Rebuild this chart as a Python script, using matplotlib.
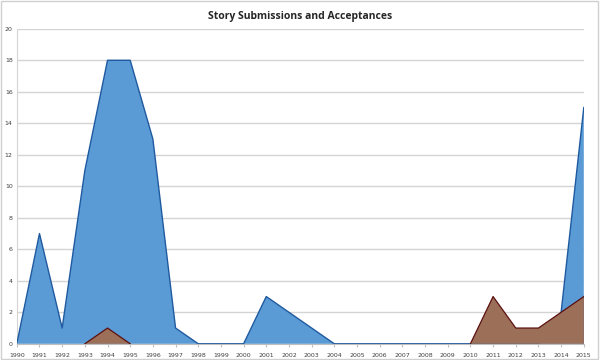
import matplotlib
matplotlib.use("Agg")
import matplotlib.pyplot as plt
from matplotlib.patches import Rectangle

years = list(range(1990, 2016))
submissions = [0, 7, 1, 11, 18, 18, 13, 1, 0, 0, 0, 3, 2, 1, 0, 0, 0, 0, 0, 0, 0, 0, 0, 0, 2, 15]
acceptances = [None, None, None, 0, 1, 0, None, None, None, None, None, None, None, None, None, None, None, None, None, None, 0, 3, 1, 1, 2, 3]
yticks = list(range(0, 21, 2))

fig = plt.figure(figsize=(6, 3.6), dpi=100)
fig.patch.set_facecolor("white")
fig.add_artist(Rectangle((0.002, 0.003), 0.995, 0.993, transform=fig.transFigure,
                         fill=False, edgecolor="#d0d0d0", linewidth=1.0))
ax = fig.add_axes([0.028, 0.045, 0.945, 0.875])

blue_face = "#5b9bd5"
blue_edge = "#1f5aa0"
brown_face = "#9c6f58"
brown_edge = "#5b1010"

ax.fill_between(years, submissions, 0, facecolor=blue_face, edgecolor="none", zorder=2)
ax.plot(years, submissions, color=blue_edge, linewidth=1.0, zorder=3)

seg1_x = [y for y, a in zip(years, acceptances) if a is not None and y < 2000]
seg1_y = [a for y, a in zip(years, acceptances) if a is not None and y < 2000]
seg2_x = [y for y, a in zip(years, acceptances) if a is not None and y > 2000]
seg2_y = [a for y, a in zip(years, acceptances) if a is not None and y > 2000]
for sx, sy in ((seg1_x, seg1_y), (seg2_x, seg2_y)):
    ax.fill_between(sx, sy, 0, facecolor=brown_face, edgecolor="none", zorder=4)
    ax.plot(sx, sy, color=brown_edge, linewidth=0.9, zorder=5)
ax.plot([2015, 2015], [0, acceptances[-1]], color=brown_edge, linewidth=0.9, zorder=5)

ax.set_xlim(1990, 2015)
ax.set_ylim(0, 20)
ax.set_xticks(years)
ax.set_xticklabels([str(y) for y in years])
ax.set_yticks(yticks)
ax.set_yticklabels([str(t) for t in yticks])
ax.grid(axis="y", color="#d4d4d4", linewidth=1.0, zorder=0)
ax.set_axisbelow(True)
for s in ("top", "right"):
    ax.spines[s].set_visible(False)
ax.spines["left"].set_color("#d4d4d4")
ax.spines["bottom"].set_color("#bfbfbf")
ax.tick_params(axis="both", labelsize=4.5, colors="#404040", length=0, pad=3)
ax.tick_params(axis="x", length=2.5, color="#bfbfbf", direction="out", pad=4)
ax.set_title("Story Submissions and Acceptances", fontsize=7.5, fontweight="bold",
             color="#262626", fontfamily="Open Sans", pad=7)

fig.savefig("out.png", dpi=100, facecolor="white")
